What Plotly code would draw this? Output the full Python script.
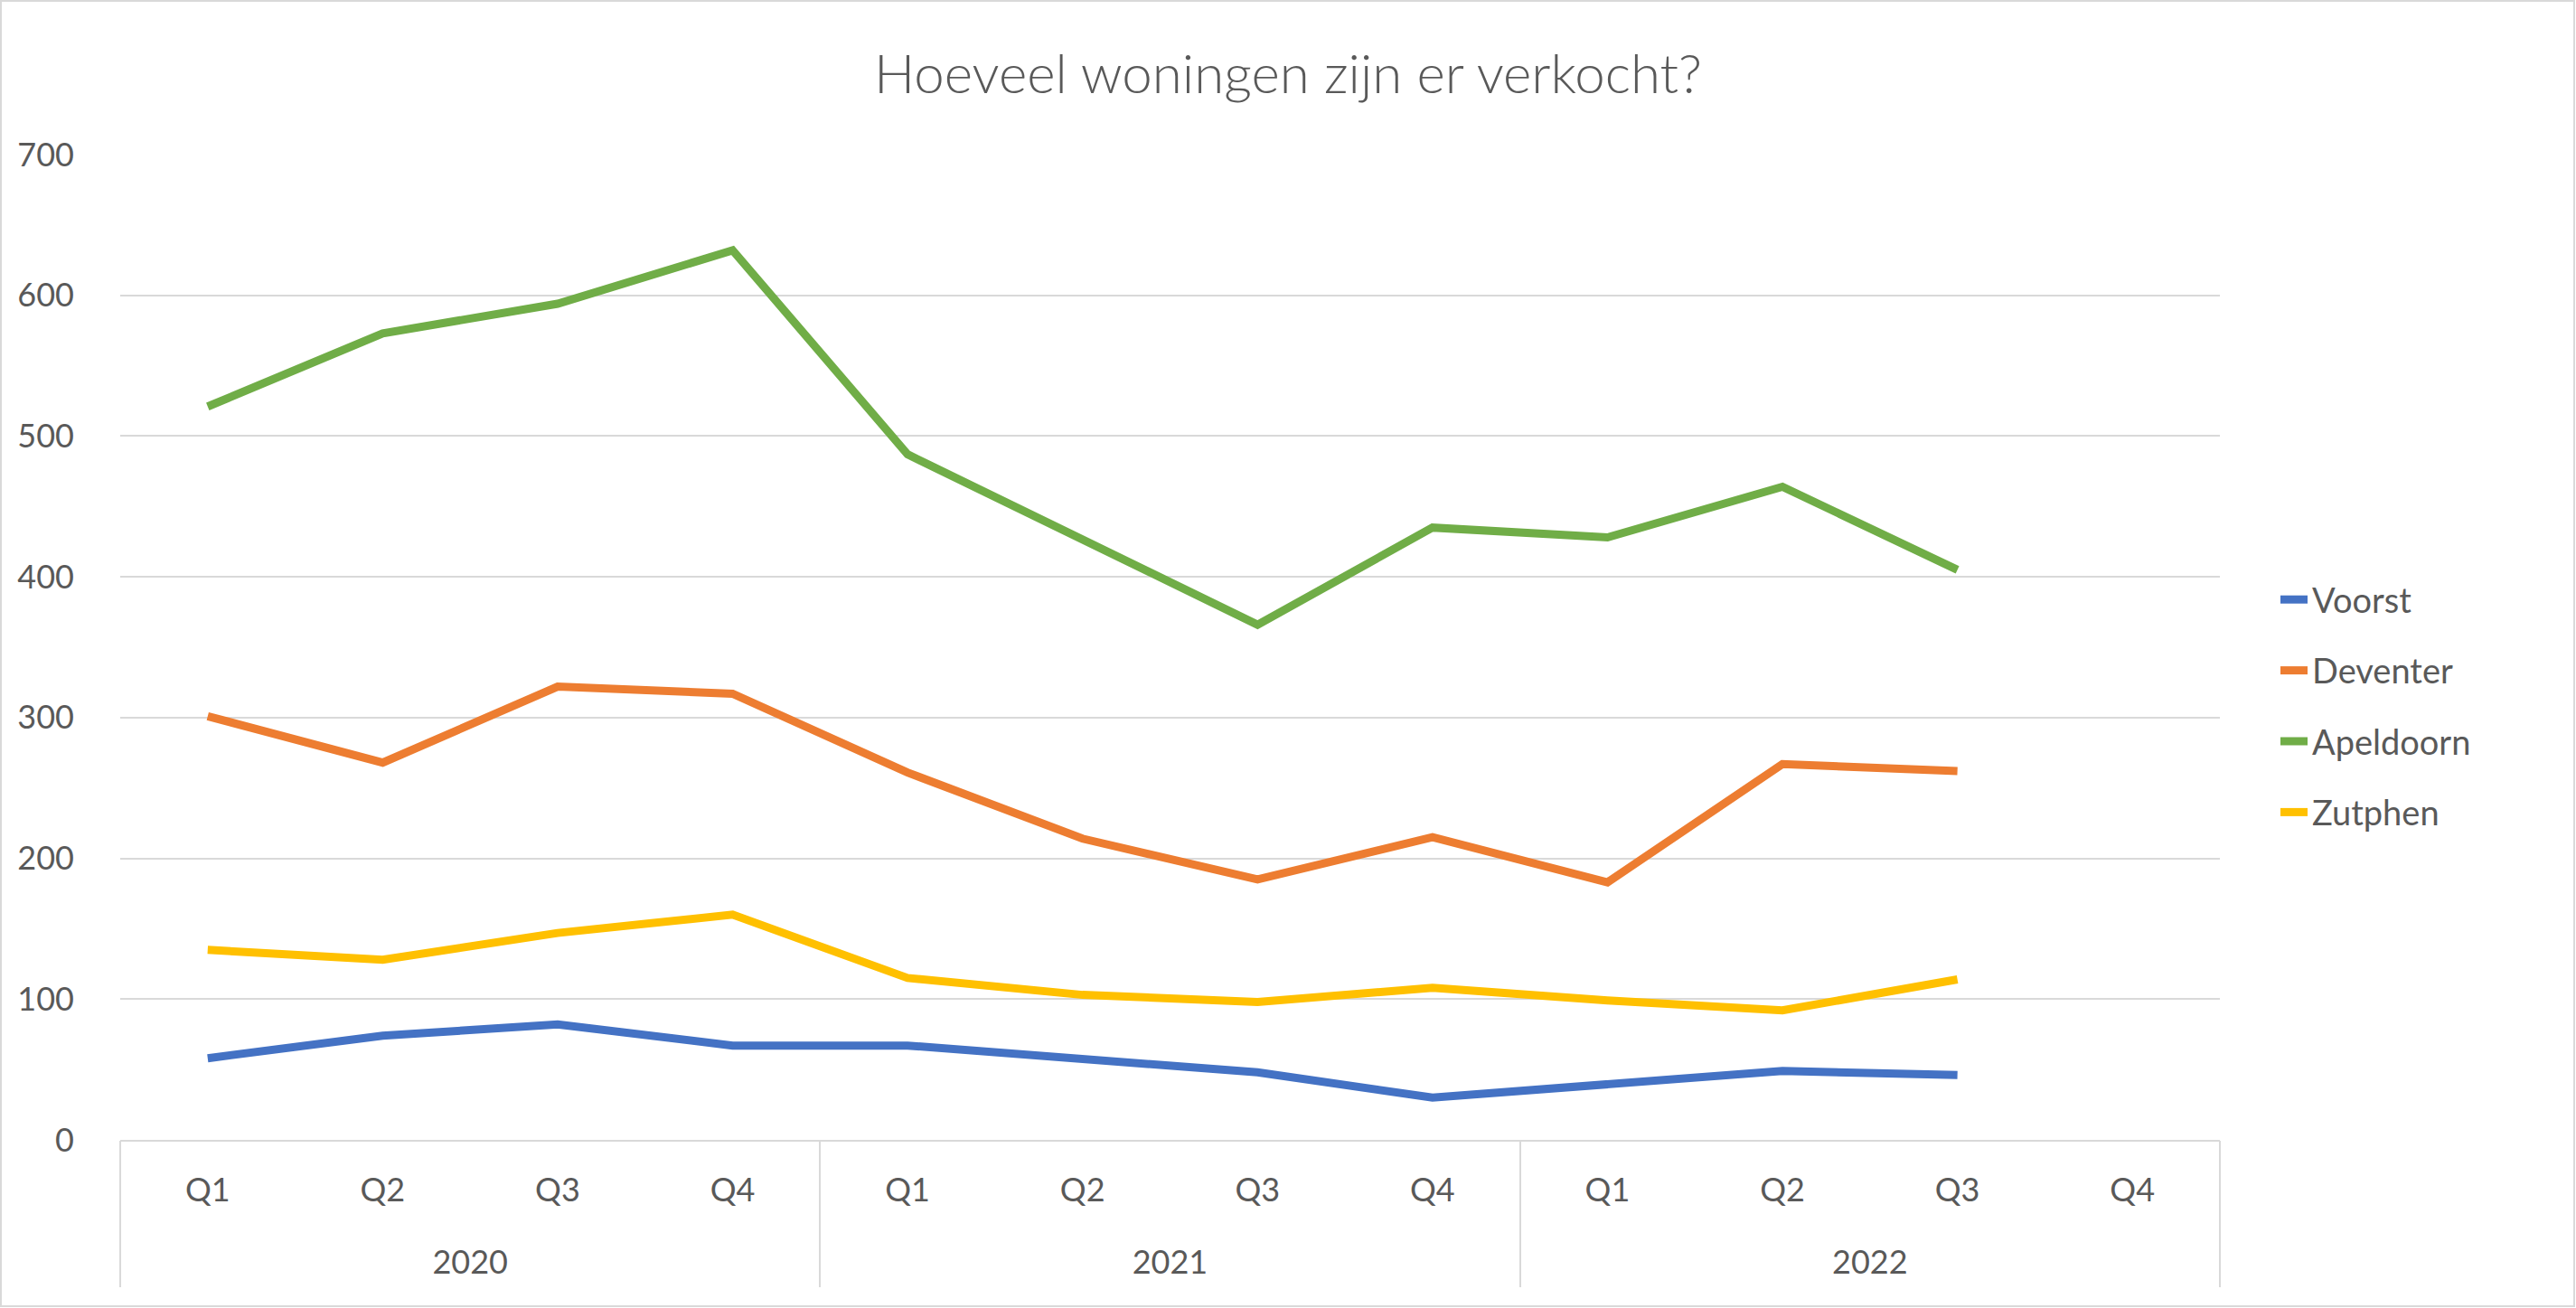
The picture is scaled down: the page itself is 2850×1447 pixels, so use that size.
import plotly.graph_objects as go

years = ["2020", "2021", "2022"]
quarters = ["Q1", "Q2", "Q3", "Q4"]
periods = [f"{y} {q}" for y in years for q in quarters]
quarter_labels = [q for y in years for q in quarters]

voorst = [58, 74, 82, 67, 67, 57, 48, 30, 40, 49, 46, None]
deventer = [301, 268, 322, 317, 261, 214, 185, 215, 183, 267, 262, None]
apeldoorn = [521, 573, 594, 632, 487, 427, 366, 435, 428, 464, 405, None]
zutphen = [135, 128, 147, 160, 115, 103, 98, 108, 99, 92, 114, None]

series = [
    ("Voorst", voorst, "#4472C4"),
    ("Deventer", deventer, "#ED7D31"),
    ("Apeldoorn", apeldoorn, "#70AD47"),
    ("Zutphen", zutphen, "#FFC000"),
]

W, H = 2850, 1447
ML, MR, MT, MB = 133, 394, 171, 186
PW, PH = W - ML - MR, H - MT - MB

n = len(periods)
nq = len(quarters)
xr = [-0.5, n - 0.5]
year_pos = [i * nq + (nq - 1) / 2 for i in range(len(years))]
bounds = [i * nq - 0.5 for i in range(len(years) + 1)]

fig = go.Figure()
for i, (name, vals, col) in enumerate(series):
    fig.add_trace(go.Scatter(
        x=periods, y=vals, name=name, mode="lines",
        line=dict(color=col, width=9), legendgroup=f"g{i}",
        connectgaps=False,
    ))
# empty helper traces so the year-label axis and divider axis get drawn
fig.add_trace(go.Scatter(x=year_pos, y=[None] * len(year_pos), xaxis="x2",
                         mode="lines", showlegend=False, hoverinfo="skip"))
fig.add_trace(go.Scatter(x=bounds, y=[None] * len(bounds), xaxis="x3",
                         mode="lines", showlegend=False, hoverinfo="skip"))

FONT = "Lato"
TXT = "#595959"
GRID = "#D9D9D9"

fig.update_layout(
    width=W, height=H,
    margin=dict(l=ML, r=MR, t=MT, b=MB, autoexpand=False),
    paper_bgcolor="white", plot_bgcolor="white",
    font=dict(family=FONT, color=TXT, size=36),
    title=dict(text="Hoeveel woningen zijn er verkocht?", x=0.5, xanchor="center",
               y=1 - 82 / H, yanchor="middle",
               font=dict(family=FONT, size=60, color=TXT, weight=300)),
    legend=dict(x=(2518 - ML) / PW, xanchor="left", y=(H - MB - 781) / PH, yanchor="middle",
                font=dict(family=FONT, size=38, color=TXT), tracegroupgap=26,
                bgcolor="rgba(0,0,0,0)"),
    showlegend=True,
    hovermode=False,
    xaxis=dict(
        type="category", categoryorder="array", categoryarray=periods, range=xr,
        tickvals=periods, ticktext=quarter_labels,
        showgrid=False, showline=True, linecolor=GRID, linewidth=2, ticks="",
        tickfont=dict(family=FONT, size=36, color=TXT), ticklabelstandoff=23,
        fixedrange=True,
    ),
    xaxis2=dict(
        overlaying="x", anchor="y", side="bottom", type="linear", range=xr,
        tickmode="array", tickvals=year_pos, ticktext=years,
        showgrid=False, showline=False, zeroline=False, ticks="",
        tickfont=dict(family=FONT, size=36, color=TXT), ticklabelstandoff=111,
        fixedrange=True,
    ),
    xaxis3=dict(
        overlaying="x", anchor="y", side="bottom", type="linear", range=xr,
        tickmode="array", tickvals=bounds, showticklabels=False,
        showgrid=False, showline=False, zeroline=False,
        ticks="outside", ticklen=162, tickwidth=2, tickcolor=GRID,
        fixedrange=True,
    ),
    yaxis=dict(
        range=[0, 700], dtick=100, showgrid=True, gridcolor=GRID, gridwidth=2,
        zeroline=False, showline=False, ticks="",
        tickfont=dict(family=FONT, size=36, color=TXT), ticklabelstandoff=50,
        fixedrange=True,
    ),
)
# chart area border
fig.add_shape(type="rect", xref="paper", yref="paper",
              x0=(1 - ML) / PW, x1=(W - 2 - ML) / PW,
              y0=(H - MB - (H - 2)) / PH, y1=(H - MB - 1) / PH,
              line=dict(color=GRID, width=2), fillcolor="rgba(0,0,0,0)", layer="below")

fig.write_html("out.html", config={"displayModeBar": False},
               post_script="document.body.style.margin='0px';")
